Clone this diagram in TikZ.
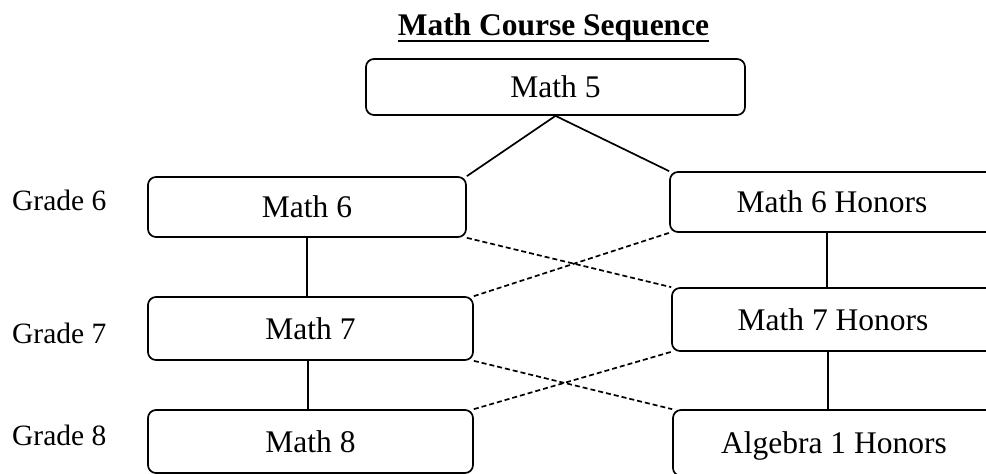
\documentclass[tikz,border=0pt]{standalone}
\usepackage{fontspec}
\setmainfont{Liberation Serif}
\usetikzlibrary{calc}
\begin{document}
\begin{tikzpicture}[x=1pt,y=-1pt,
  course/.style={draw, line width=1.7pt, rounded corners=8pt, inner sep=0pt,
    font=\fontsize{31.5}{36}\selectfont, text height=21pt, text depth=0pt},
  grade/.style={anchor=base west, inner sep=0pt, font=\fontsize{29.5}{34}\selectfont},
  link/.style={line width=1.7pt},
  alt/.style={line width=1.7pt, dash pattern=on 5pt off 3pt}]
\useasboundingbox (0,0) rectangle (986,474);
\clip (0,0) rectangle (986,474);
\fill[white] (0,0) rectangle (986,474);
% title
\node[anchor=base, inner sep=0pt, font=\bfseries\fontsize{31.5}{36}\selectfont] (title) at (553.5,35) {Math Course Sequence};
\draw[line width=2.6pt] ([yshift=-6pt]title.base west) -- ([yshift=-6pt]title.base east);
% boxes
\node[course, minimum width=379pt, minimum height=56pt] (m5) at (555.5,87) {Math 5};
\node[course, minimum width=318pt, minimum height=60pt] (m6) at (307,207) {Math 6};
\node[course, minimum width=325pt, minimum height=63pt] (m7) at (310.5,328.5) {Math 7};
\node[course, minimum width=325pt, minimum height=63pt] (m8) at (310.5,441.5) {Math 8};
\node[course, minimum width=324pt, minimum height=60pt] (h6) at (832,202) {Math 6 Honors};
\node[course, minimum width=322pt, minimum height=63pt] (h7) at (833,319.5) {Math 7 Honors};
\node[course, minimum width=322pt, minimum height=66pt] (a1) at (834,443) {Algebra 1 Honors};
% grade labels
\node[grade] (g6) at (12,210) {Grade 6};
\node[grade] (g7) at (12,343) {Grade 7};
\node[grade] (g8) at (12,445) {Grade 8};
% solid connectors
\draw[link] (m5.south) -- (m6.north east);
\draw[link] (m5.south) -- (h6.north west);
\draw[link] (m6.south) -- (m6.south |- m7.north);
\draw[link] ([xshift=-2.5pt]m7.south) -- ([xshift=-2.5pt]m7.south |- m8.north);
\draw[link] ([xshift=-5pt]h6.south) -- ([xshift=-5pt]h6.south |- h7.north);
\draw[link] ([xshift=-5pt]h7.south) -- ([xshift=-5pt]h7.south |- a1.north);
% dashed connectors
\draw[alt] (m6.south east) -- (h7.north west);
\draw[alt] (m7.north east) -- (h6.south west);
\draw[alt] (m7.south east) -- (a1.north west);
\draw[alt] (m8.north east) -- (h7.south west);
\end{tikzpicture}
\end{document}
